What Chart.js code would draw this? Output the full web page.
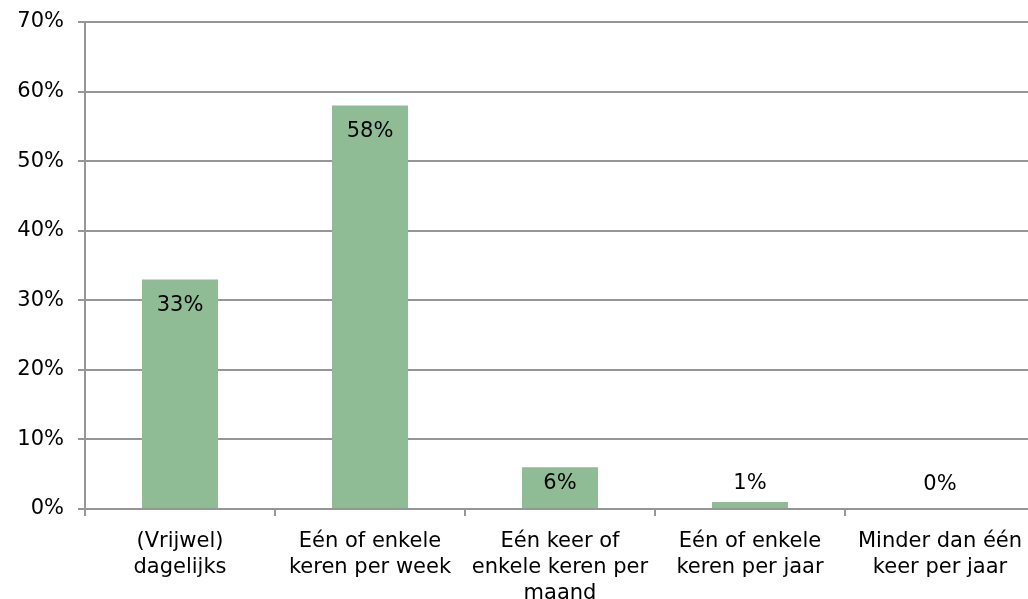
<!DOCTYPE html>
<html>
<head>
<meta charset="utf-8">
<script src="https://cdn.jsdelivr.net/npm/chart.js@4/dist/chart.umd.min.js"></script>
<style>
  html, body { margin: 0; padding: 0; background: #fff; overflow: hidden; }
  #wrap { width: 1040px; height: 599px; }
</style>
</head>
<body>
<div id="wrap"><canvas id="chartFrequentie" width="1040" height="599"></canvas></div>
<script>
// Data
const categorieen = [
  ["(Vrijwel)", "dagelijks"],
  ["Eén of enkele", "keren per week"],
  ["Eén keer of", "enkele keren per", "maand"],
  ["Eén of enkele", "keren per jaar"],
  ["Minder dan één", "keer per jaar"]
];
const percentages = [33, 58, 6, 1, 0];
const yTicks = [0, 10, 20, 30, 40, 50, 60, 70];

const fontFamily = "Verdana, 'DejaVu Sans', sans-serif";
const lijnKleur = "#969696";

// Labels in de balk (of net boven de as als de balk te klein is)
const waardeLabels = {
  id: "waardeLabels",
  afterDatasetsDraw(chart) {
    const { ctx } = chart;
    const meta = chart.getDatasetMeta(0);
    ctx.save();
    ctx.font = "21px " + fontFamily;
    ctx.fillStyle = "#000";
    ctx.textAlign = "center";
    ctx.textBaseline = "middle";
    meta.data.forEach((bar, i) => {
      const y = Math.min(bar.y + 26, bar.base - 24);
      ctx.fillText(percentages[i] + "%", bar.x, y);
    });
    ctx.restore();
  }
};

const ctx = document.getElementById("chartFrequentie");

new Chart(ctx, {
  type: "bar",
  data: {
    labels: categorieen,
    datasets: [
      {
        data: percentages,
        backgroundColor: "#8fbb95",
        borderWidth: 0,
        barPercentage: 0.4,
        categoryPercentage: 1
      }
    ]
  },
  options: {
    responsive: false,
    animation: false,
    devicePixelRatio: 1,
    layout: { padding: { top: 22, right: 5, left: 0, bottom: 0 } },
    plugins: {
      legend: { display: false },
      tooltip: { enabled: false }
    },
    scales: {
      x: {
        grid: {
          drawOnChartArea: false,
          drawTicks: true,
          tickLength: 7,
          color: lijnKleur,
          lineWidth: 2
        },
        border: { color: lijnKleur, width: 2 },
        ticks: {
          color: "#000",
          font: { family: fontFamily, size: 21, lineHeight: 1.22 },
          padding: 13,
          maxRotation: 0,
          autoSkip: false
        },
        afterFit: (scale) => {
          scale.height = 90;
          scale.paddingLeft = 0;
          scale.paddingRight = 0;
        }
      },
      y: {
        min: 0,
        max: 70,
        afterBuildTicks: (scale) => {
          scale.ticks = yTicks.map((v) => ({ value: v }));
        },
        grid: {
          color: lijnKleur,
          lineWidth: 2,
          tickLength: 7
        },
        border: { color: lijnKleur, width: 2 },
        ticks: {
          color: "#000",
          font: { family: fontFamily, size: 21 },
          padding: 14,
          callback: (v) => v + "%"
        },
        afterFit: (scale) => {
          scale.width = 85;
          scale.paddingTop = 0;
          scale.paddingBottom = 0;
        }
      }
    }
  },
  plugins: [waardeLabels]
});
</script>
</body>
</html>
